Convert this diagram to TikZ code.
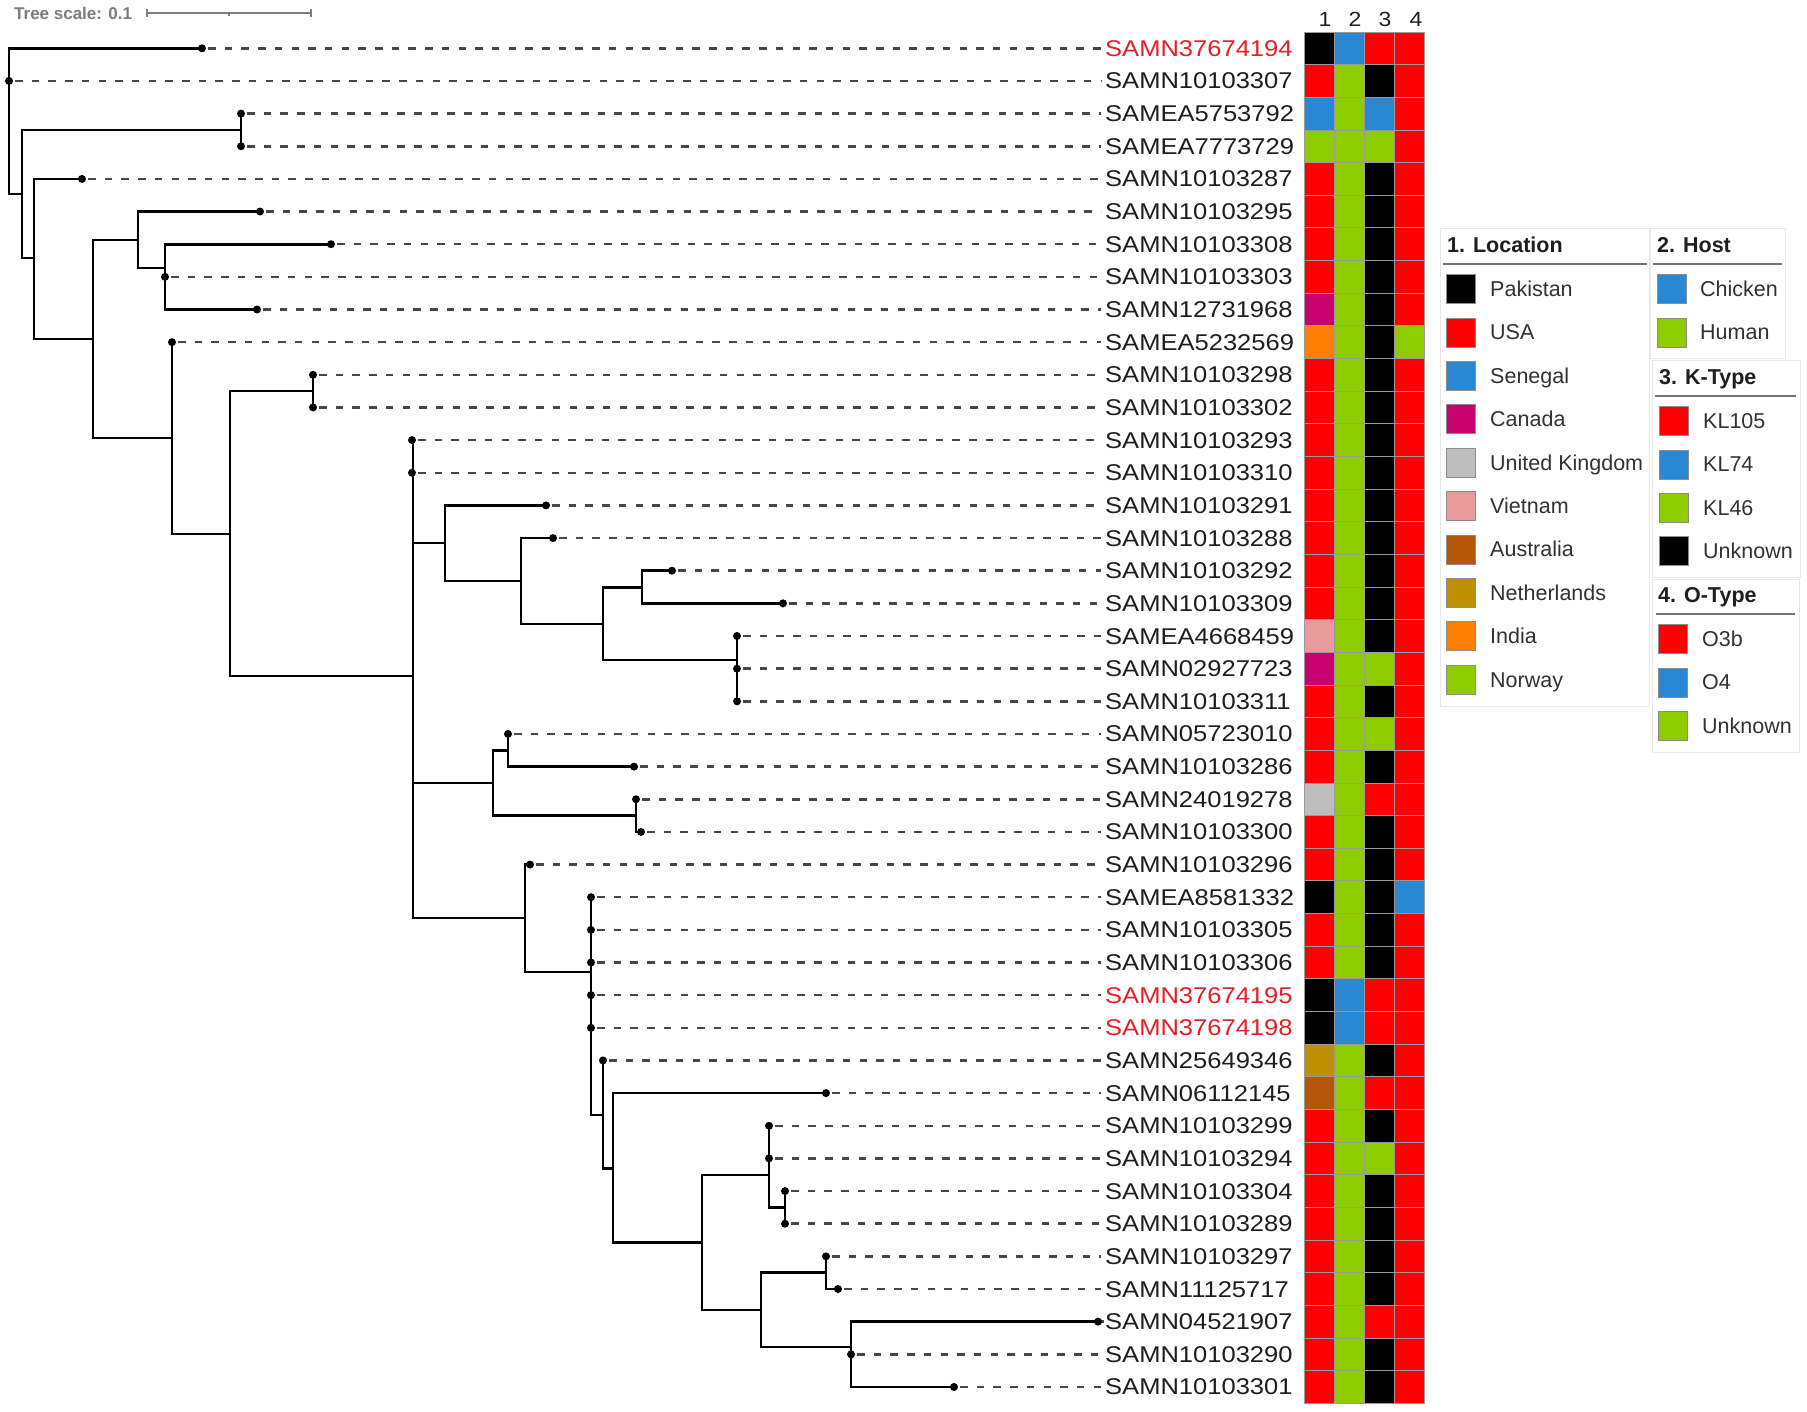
\documentclass[tikz,border=0pt]{standalone}
\usepackage{fontspec}
\setmainfont{Liberation Sans}
\newfontfamily\labfont[FakeStretch=1.12]{Liberation Sans}
\definecolor{hK}{RGB}{0,0,0}
\definecolor{hR}{RGB}{255,0,0}
\definecolor{hB}{RGB}{42,135,209}
\definecolor{hM}{RGB}{200,0,110}
\definecolor{hG}{RGB}{190,190,190}
\definecolor{hP}{RGB}{233,154,154}
\definecolor{hW}{RGB}{180,88,8}
\definecolor{hD}{RGB}{190,143,0}
\definecolor{hO}{RGB}{255,127,0}
\definecolor{hN}{RGB}{142,204,0}
\definecolor{labred}{RGB}{230,30,38}
\definecolor{labblk}{RGB}{30,30,30}
\definecolor{legtext}{RGB}{50,50,50}
\definecolor{scalegray}{RGB}{125,125,125}
\tikzset{
  branch/.style={line width=2.7pt, black},
  dashline/.style={line width=2.5pt, black!72, dash pattern=on 7.5pt off 9.2pt},
  tipdot/.style={fill=black},
  cell/.style={draw=black!40, line width=0.8pt, minimum width=30pt, minimum height=32.65pt, inner sep=0pt, outer sep=0pt},
  lab/.style={anchor=west, inner sep=0pt, font=\labfont\fontsize{22.8}{24}\selectfont, text height=16pt, text depth=0pt},
  colhead/.style={inner sep=0pt, font=\labfont\fontsize{20.5}{22}\selectfont, text height=14pt, text depth=0pt, text=labblk},
  legbox/.style={fill=white, draw=black!9, line width=1pt},
  legrule/.style={draw=black!55, line width=1.2pt},
  leghead/.style={anchor=west, inner sep=0pt, font=\bfseries\fontsize{21.5}{23}\selectfont, text height=15pt, text depth=0pt, text=black!88},
  legtxt/.style={anchor=west, inner sep=0pt, font=\fontsize{21.5}{23}\selectfont, text height=15pt, text depth=0pt, text=legtext},
  swatch/.style={draw=black!45, line width=0.8pt, minimum size=29pt, inner sep=0pt, outer sep=0pt},
  scalebar/.style={draw=scalegray, line width=1.2pt},
  scaletxt/.style={anchor=west, inner sep=0pt, font=\bfseries\fontsize{17}{19}\selectfont, text height=12pt, text depth=0pt, text=scalegray}
}
\begin{document}
\begin{tikzpicture}[x=1pt,y=-1pt]
\useasboundingbox[fill=white] (0,0) rectangle (1807,1411);

% scale bar
\node[scaletxt] (scaletext) at (14,13) {Tree scale: 0.1};
\coordinate (sbL) at (147,13);
\coordinate (sbR) at (311,13);
\draw[scalebar] (sbL) -- (sbR);
\draw[scalebar] (147,9) -- (147,17);
\draw[scalebar] (311,9) -- (311,17);
\draw[scalebar] (229,13) -- (229,15.5);

% column headers
\node[colhead] (col1) at (1325,19.7) {1};
\node[colhead] (col2) at (1355,19.7) {2};
\node[colhead] (col3) at (1385,19.7) {3};
\node[colhead] (col4) at (1416,19.7) {4};

% leaves, labels, heatmap
\foreach \i/\tx/\ltxt/\lcol/\qa/\qb/\qc/\qd in {
1/202/SAMN37674194/labred/hK/hB/hR/hR,
2/9/SAMN10103307/labblk/hR/hN/hK/hR,
3/241/SAMEA5753792/labblk/hB/hN/hB/hR,
4/241/SAMEA7773729/labblk/hN/hN/hN/hR,
5/82/SAMN10103287/labblk/hR/hN/hK/hR,
6/260/SAMN10103295/labblk/hR/hN/hK/hR,
7/331/SAMN10103308/labblk/hR/hN/hK/hR,
8/165/SAMN10103303/labblk/hR/hN/hK/hR,
9/257/SAMN12731968/labblk/hM/hN/hK/hR,
10/172/SAMEA5232569/labblk/hO/hN/hK/hN,
11/313/SAMN10103298/labblk/hR/hN/hK/hR,
12/313/SAMN10103302/labblk/hR/hN/hK/hR,
13/412/SAMN10103293/labblk/hR/hN/hK/hR,
14/412/SAMN10103310/labblk/hR/hN/hK/hR,
15/546/SAMN10103291/labblk/hR/hN/hK/hR,
16/553/SAMN10103288/labblk/hR/hN/hK/hR,
17/672/SAMN10103292/labblk/hR/hN/hK/hR,
18/783/SAMN10103309/labblk/hR/hN/hK/hR,
19/737/SAMEA4668459/labblk/hP/hN/hK/hR,
20/737/SAMN02927723/labblk/hM/hN/hN/hR,
21/737/SAMN10103311/labblk/hR/hN/hK/hR,
22/508/SAMN05723010/labblk/hR/hN/hN/hR,
23/634/SAMN10103286/labblk/hR/hN/hK/hR,
24/636/SAMN24019278/labblk/hG/hN/hR/hR,
25/641/SAMN10103300/labblk/hR/hN/hK/hR,
26/530/SAMN10103296/labblk/hR/hN/hK/hR,
27/591/SAMEA8581332/labblk/hK/hN/hK/hB,
28/591/SAMN10103305/labblk/hR/hN/hK/hR,
29/591/SAMN10103306/labblk/hR/hN/hK/hR,
30/591/SAMN37674195/labred/hK/hB/hR/hR,
31/591/SAMN37674198/labred/hK/hB/hR/hR,
32/603/SAMN25649346/labblk/hD/hN/hK/hR,
33/826/SAMN06112145/labblk/hW/hN/hR/hR,
34/769/SAMN10103299/labblk/hR/hN/hK/hR,
35/769/SAMN10103294/labblk/hR/hN/hN/hR,
36/785/SAMN10103304/labblk/hR/hN/hK/hR,
37/785/SAMN10103289/labblk/hR/hN/hK/hR,
38/826/SAMN10103297/labblk/hR/hN/hK/hR,
39/838/SAMN11125717/labblk/hR/hN/hK/hR,
40/1098/SAMN04521907/labblk/hR/hN/hR/hR,
41/851/SAMN10103290/labblk/hR/hN/hK/hR,
42/954/SAMN10103301/labblk/hR/hN/hK/hR}{
  \pgfmathsetmacro\yy{48.3+32.65*(\i-1)}
  \coordinate (t\i) at (\tx,\yy);
  \node[lab, text=\lcol] (lab\i) at (1105,\yy) {\ltxt};
  \node[cell, fill=\qa] (h\i-1) at (1319,\yy) {};
  \node[cell, fill=\qb] (h\i-2) at (1349,\yy) {};
  \node[cell, fill=\qc] (h\i-3) at (1379,\yy) {};
  \node[cell, fill=\qd] (h\i-4) at (1409,\yy) {};
}

% internal nodes
\coordinate (nR) at (9,121);
\coordinate (nA) at (22,194);
\coordinate (nB) at (241,129.9);
\coordinate (nC) at (34,258);
\coordinate (nD) at (93,339);
\coordinate (nE) at (138,240);
\coordinate (nG) at (165,268);
\coordinate (nF) at (172,438);
\coordinate (nH) at (230,534);
\coordinate (nI) at (313,391.1);
\coordinate (nJ) at (413,676);
\coordinate (nK) at (445,543);
\coordinate (nN) at (521,581);
\coordinate (nO) at (603,624);
\coordinate (nP) at (642,587.5);
\coordinate (nQ) at (737,660);
\coordinate (nL) at (493,783);
\coordinate (nS) at (508,750.3);
\coordinate (nT) at (636,815.6);
\coordinate (nM) at (525,918);
\coordinate (nU) at (591,972);
\coordinate (nV) at (603,1115);
\coordinate (nW) at (613,1168.6);
\coordinate (nX) at (702,1242.8);
\coordinate (nY) at (769,1175);
\coordinate (nAA) at (785,1207.4);
\coordinate (nZ) at (761,1310);
\coordinate (nBB) at (826,1272.7);
\coordinate (nCC) at (851,1347);

% dashed leader lines
\foreach \i in {1,...,42}{
  \draw[dashline] ([xshift=6pt]t\i) -- ([xshift=-4pt]lab\i.west);
}

% branches
\foreach \p/\q in {nR/t1, nR/t2, nR/nA, nA/nB, nB/t3, nB/t4, nA/nC, nC/t5, nC/nD,
  nD/nE, nE/t6, nE/nG, nG/t7, nG/t8, nG/t9, nD/nF, nF/t10, nF/nH, nH/nI, nI/t11, nI/t12,
  nH/nJ, nJ/t13, nJ/t14, nJ/nK, nK/t15, nK/nN, nN/t16, nN/nO, nO/nP, nP/t17, nP/t18,
  nO/nQ, nQ/t19, nQ/t20, nQ/t21, nJ/nL, nL/nS, nS/t22, nS/t23, nL/nT, nT/t24, nT/t25,
  nJ/nM, nM/t26, nM/nU, nU/t27, nU/t28, nU/t29, nU/t30, nU/t31, nU/nV, nV/t32, nV/nW,
  nW/t33, nW/nX, nX/nY, nY/t34, nY/t35, nY/nAA, nAA/t36, nAA/t37, nX/nZ, nZ/nBB,
  nBB/t38, nBB/t39, nZ/nCC, nCC/t40, nCC/t41, nCC/t42}{
  \draw[branch] (\p) |- (\q);
}

% tip dots
\foreach \i in {1,...,42}{
  \fill[tipdot] (t\i) circle (4pt);
}

% legend boxes
\draw[legbox] (1440,228) rectangle (1649,706);
\draw[legbox] (1650,228) rectangle (1785,358);
\draw[legbox] (1652,360) rectangle (1800,577);
\draw[legbox] (1652,579) rectangle (1799,752);

\node[leghead] (hd1) at (1447,245) {1. Location};
\node[leghead] (hd2) at (1657,245) {2. Host};
\node[leghead] (hd3) at (1659,377) {3. K-Type};
\node[leghead] (hd4) at (1658,595) {4. O-Type};
\draw[legrule] (1443,264) -- (1647,264);
\draw[legrule] (1653,264) -- (1782,264);
\draw[legrule] (1655,396) -- (1796,396);
\draw[legrule] (1656,614) -- (1795,614);

\foreach \k/\col/\txt in {0/hK/Pakistan, 1/hR/USA, 2/hB/Senegal, 3/hM/Canada,
  4/hG/United Kingdom, 5/hP/Vietnam, 6/hW/Australia, 7/hD/Netherlands, 8/hO/India, 9/hN/Norway}{
  \pgfmathsetmacro\ly{289+43.4*\k}
  \node[swatch, fill=\col] (ls\k) at (1460.5,\ly) {};
  \node[legtxt] (lt\k) at (1490,\ly) {\txt};
}
\foreach \k/\col/\txt in {0/hB/Chicken, 1/hN/Human}{
  \pgfmathsetmacro\ly{289+43.4*\k}
  \node[swatch, fill=\col] (hs\k) at (1671.5,\ly) {};
  \node[legtxt] (ht\k) at (1700,\ly) {\txt};
}
\foreach \k/\col/\txt in {0/hR/KL105, 1/hB/KL74, 2/hN/KL46, 3/hK/Unknown}{
  \pgfmathsetmacro\ly{421+43.4*\k}
  \node[swatch, fill=\col] (ks\k) at (1673.5,\ly) {};
  \node[legtxt] (kt\k) at (1703,\ly) {\txt};
}
\foreach \k/\col/\txt in {0/hR/O3b, 1/hB/O4, 2/hN/Unknown}{
  \pgfmathsetmacro\ly{639+43.4*\k}
  \node[swatch, fill=\col] (os\k) at (1672.5,\ly) {};
  \node[legtxt] (ot\k) at (1702,\ly) {\txt};
}
\end{tikzpicture}
\end{document}
